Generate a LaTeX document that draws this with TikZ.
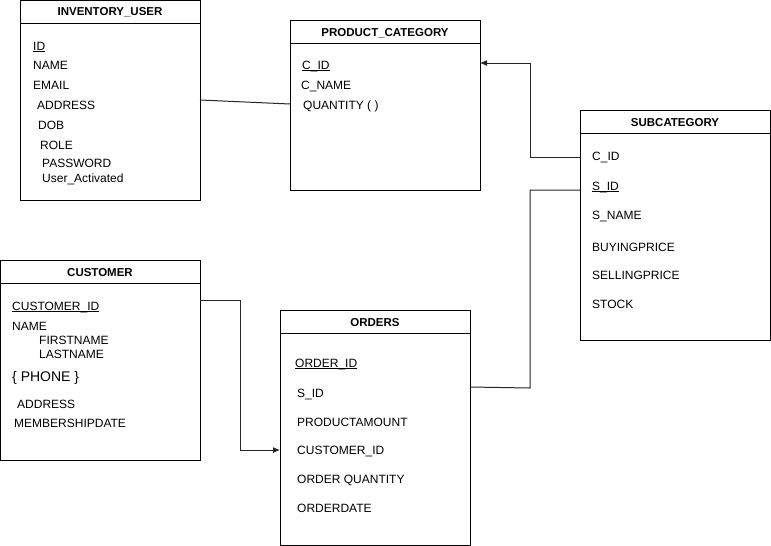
\documentclass[tikz,border=0pt]{standalone}
\usepackage{fontspec}
\setmainfont{Liberation Sans}
\usetikzlibrary{arrows.meta}
\newcommand{\keyul}[1]{\underline{\smash{#1}}}
\begin{document}
\begin{tikzpicture}[x=1pt,y=-1pt,
  tbl/.style={draw=black,line width=1pt,inner sep=0pt,anchor=north west},
  hdr/.style={inner sep=0pt,anchor=base,font=\fontsize{11.5}{13}\selectfont\bfseries},
  fld/.style={inner sep=0pt,anchor=base west,font=\fontsize{12}{14}\selectfont},
  conn/.style={draw=black!85,line width=1pt},
  arr/.style={conn,-{Latex[length=7pt,width=6pt]}}]
\useasboundingbox (0,0) rectangle (771,546);
% INVENTORY_USER
\node[tbl,minimum width=180pt,minimum height=200pt] (iu) at (20,0) {};
\draw[line width=1pt] ([yshift=-23pt]iu.north west) -- ([yshift=-23pt]iu.north east);
\node[hdr] (iut) at (110,16) {INVENTORY\_USER};
\node[fld] (iu1) at (33,50) {\keyul{ID}};
\node[fld] (iu2) at (33,69) {NAME};
\node[fld] (iu3) at (33,89) {EMAIL};
\node[fld] (iu4) at (37,109) {ADDRESS};
\node[fld] (iu5) at (38,129) {DOB};
\node[fld] (iu6) at (40,149) {ROLE};
\node[fld] (iu7) at (42,167) {PASSWORD};
\node[fld] (iu8) at (42,182) {User\_Activated};
% PRODUCT_CATEGORY
\node[tbl,minimum width=190pt,minimum height=170pt] (pc) at (290,20) {};
\draw[line width=1pt] ([yshift=-23pt]pc.north west) -- ([yshift=-23pt]pc.north east);
\node[hdr] (pct) at (385,36) {PRODUCT\_CATEGORY};
\node[fld] (pc1) at (302,69) {\keyul{C\_ID}};
\node[fld] (pc2) at (301,89) {C\_NAME};
\node[fld] (pc3) at (303,109) {QUANTITY ( )};
% SUBCATEGORY
\node[tbl,minimum width=190pt,minimum height=230pt] (sc) at (580,110) {};
\draw[line width=1pt] ([yshift=-23pt]sc.north west) -- ([yshift=-23pt]sc.north east);
\node[hdr] (sct) at (675,126) {SUBCATEGORY};
\node[fld] (sc1) at (592,160) {C\_ID};
\node[fld] (sc2) at (592,190) {\keyul{S\_ID}};
\node[fld] (sc3) at (592,219) {S\_NAME};
\node[fld] (sc4) at (592,251) {BUYINGPRICE};
\node[fld] (sc5) at (592,279) {SELLINGPRICE};
\node[fld] (sc6) at (592,308) {STOCK};
% CUSTOMER
\node[tbl,minimum width=200pt,minimum height=200pt] (cu) at (0,260) {};
\draw[line width=1pt] ([yshift=-23pt]cu.north west) -- ([yshift=-23pt]cu.north east);
\node[hdr] (cut) at (100,276) {CUSTOMER};
\node[fld] (cu1) at (12,310) {\keyul{CUSTOMER\_ID}};
\node[fld] (cu2) at (12,330) {NAME};
\node[fld] (cu3) at (39,344) {FIRSTNAME};
\node[fld] (cu4) at (39,358) {LASTNAME};
\node[fld,font=\fontsize{14}{16}\selectfont] (cu5) at (12,381) {\{ PHONE \}};
\node[fld] (cu6) at (17,408) {ADDRESS};
\node[fld] (cu7) at (14,427) {MEMBERSHIPDATE};
% ORDERS
\node[tbl,minimum width=190pt,minimum height=235pt] (or) at (280,310) {};
\draw[line width=1pt] ([yshift=-23pt]or.north west) -- ([yshift=-23pt]or.north east);
\node[hdr] (ort) at (375,326) {ORDERS};
\node[fld] (or1) at (295,367) {\keyul{ORDER\_ID}};
\node[fld] (or2) at (297,397) {S\_ID};
\node[fld] (or3) at (297,426) {PRODUCTAMOUNT};
\node[fld] (or4) at (297,454) {CUSTOMER\_ID};
\node[fld] (or5) at (297,483) {ORDER QUANTITY};
\node[fld] (or6) at (297,512) {ORDERDATE};
% connectors
\coordinate (c1a) at (200,100);
\coordinate (c1b) at (290,104);
\draw[conn] (c1a) -- (c1b);
\coordinate (c2a) at (580,157);
\coordinate (c2b) at (530,157);
\coordinate (c2c) at (530,63);
\coordinate (c2d) at (480,63);
\draw[arr] (c2a) -- (c2b) -- (c2c) -- (c2d);
\coordinate (c3a) at (580,190);
\coordinate (c3b) at (530,190);
\coordinate (c3c) at (530,388);
\coordinate (c3d) at (470,387);
\draw[conn] (c3a) -- (c3b) -- (c3c) -- (c3d);
\coordinate (c4a) at (200,300);
\coordinate (c4b) at (240,300);
\coordinate (c4c) at (240,450);
\coordinate (c4d) at (280,450);
\draw[arr] (c4a) -- (c4b) -- (c4c) -- (c4d);
\end{tikzpicture}
\end{document}
